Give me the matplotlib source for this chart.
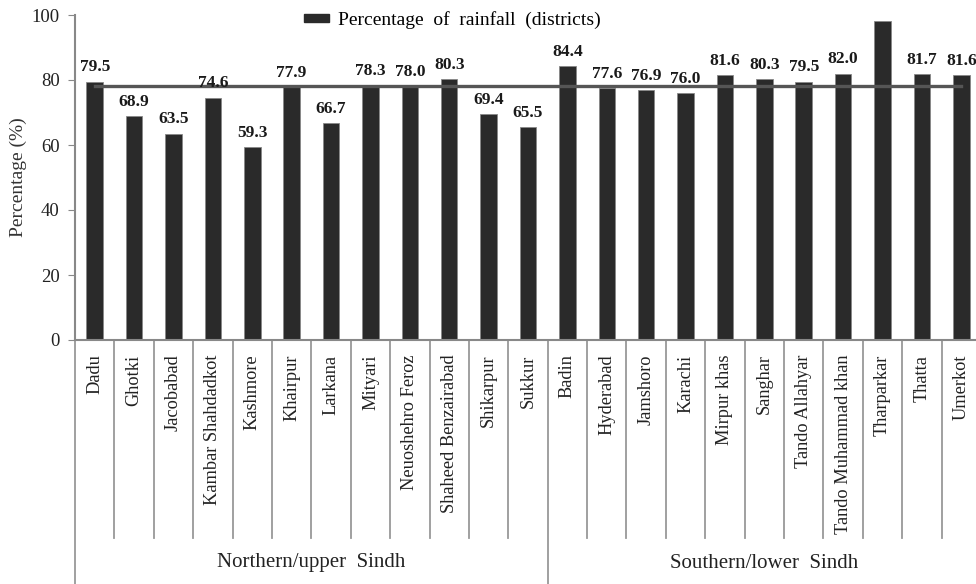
import matplotlib
matplotlib.use("Agg")
import matplotlib.pyplot as plt
from matplotlib.patches import Patch
import matplotlib.transforms as mtransforms

plt.rcParams['font.family'] = ['Liberation Serif', 'DejaVu Serif']

districts = ["Dadu", "Ghotki", "Jacobabad", "Kambar Shahdadkot", "Kashmore",
             "Khairpur", "Larkana", "Mityari", "Neuoshehro Feroz",
             "Shaheed Benzairabad", "Shikarpur", "Sukkur",
             "Badin", "Hyderabad", "Jamshoro", "Karachi", "Mirpur khas",
             "Sanghar", "Tando Allahyar", "Tando Muhammad khan", "Tharparkar",
             "Thatta", "Umerkot"]
rainfall_pct = [79.5, 68.9, 63.5, 74.6, 59.3, 77.9, 66.7, 78.3, 78.0, 80.3,
                69.4, 65.5,
                84.4, 77.6, 76.9, 76.0, 81.6, 80.3, 79.5, 82.0, 98.3, 81.7, 81.6]
value_labels = ["79.5", "68.9", "63.5", "74.6", "59.3", "77.9", "66.7", "78.3",
                "78.0", "80.3", "69.4", "65.5",
                "84.4", "77.6", "76.9", "76.0", "81.6", "80.3", "79.5", "82.0",
                "", "81.7", "81.6"]
overall_pct = 78.2
regions = ["Northern/upper  Sindh", "Southern/lower  Sindh"]
region_sizes = [12, 11]
yticks = [0, 20, 40, 60, 80, 100]

fig = plt.figure(figsize=(9.76, 5.84), dpi=100)
W, H = 976, 584
left_px, right_px, top_px, bottom_px = 75, 981, 15, 340
ax = fig.add_axes([left_px / W, 1 - bottom_px / H,
                   (right_px - left_px) / W, (bottom_px - top_px) / H])

x = list(range(len(districts)))
ax.bar(x, rainfall_pct, width=0.42, color="#2a2a2a", edgecolor="#888888",
       linewidth=0.6, zorder=2)
ax.plot([x[0], x[-1]], [overall_pct, overall_pct], color="#555555",
        linewidth=2.4, zorder=3)

for xi, v, lab in zip(x, rainfall_pct, value_labels):
    if lab:
        ax.text(xi, v + 1.9, lab, ha="center", va="bottom", fontsize=12.5,
                fontweight="bold", color="#1a1a1a", zorder=4)

ax.set_xlim(-0.5, len(districts) - 0.5)
ax.set_ylim(0, 100)
ax.set_yticks(yticks)
ax.tick_params(axis="y", labelsize=13.5, length=5, color="#888888",
               labelcolor="#222222", pad=6)
ax.set_xticks([])
ax.set_ylabel("Percentage (%)", fontsize=14, color="#333333")
ax.yaxis.set_label_coords(-0.053, 0.5)

for s in ["top", "right"]:
    ax.spines[s].set_visible(False)
ax.spines["left"].set_color("#888888")
ax.spines["bottom"].set_color("#888888")
ax.spines["left"].set_linewidth(1.5)
ax.spines["bottom"].set_linewidth(1.5)

trans = mtransforms.blended_transform_factory(ax.transData, ax.transAxes)
short_end = -(538 - bottom_px) / (bottom_px - top_px)
long_end = -(H - bottom_px) / (bottom_px - top_px)
boundaries = set()
acc = 0
for n in region_sizes:
    boundaries.add(acc)
    acc += n
for k in range(len(districts)):
    xb = k - 0.5
    y_end = long_end if k in boundaries else short_end
    ax.plot([xb, xb], [0, y_end], color="#999999", linewidth=1.3,
            transform=trans, clip_on=False)

for xi, name in zip(x, districts):
    ax.text(xi, -0.045, name, rotation=90, ha="center", va="top",
            fontsize=13.2, color="#222222", transform=trans)

start = 0
for name, n in zip(regions, region_sizes):
    centre = start + (n - 1) / 2
    ax.text(centre, -(563 - bottom_px) / (bottom_px - top_px), name,
            ha="center", va="center", fontsize=15, color="#222222",
            transform=trans)
    start += n

handle = Patch(facecolor="#2a2a2a", edgecolor="#2a2a2a")
fig.legend([handle], ["Percentage  of  rainfall  (districts)"],
           loc="center", bbox_to_anchor=(452 / W, 1 - 20 / H), frameon=False,
           fontsize=14, handlelength=1.3, handleheight=0.3,
           handletextpad=0.45)

fig.savefig("out.png", dpi=100, facecolor="white")
